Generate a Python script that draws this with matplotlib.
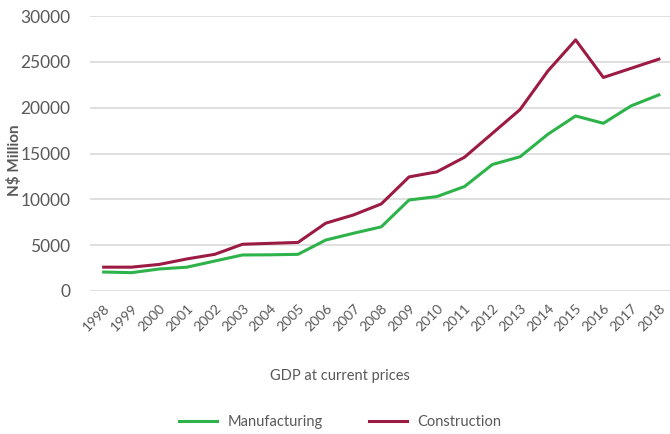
import matplotlib.pyplot as plt

years = [str(y) for y in range(1998, 2019)]
manufacturing = [2070, 2000, 2400, 2600, 3270, 3930, 3950, 4000, 5560, 6300, 7000,
                 9930, 10300, 11400, 13800, 14650, 17100, 19100, 18300, 20200, 21400]
construction = [2600, 2600, 2900, 3500, 4000, 5100, 5200, 5300, 7400, 8300, 9500,
                12450, 13000, 14600, 17200, 19800, 24000, 27400, 23300, 24300, 25300]

plt.rcParams['font.family'] = ['Lato', 'DejaVu Sans']
grey = '#595959'

fig = plt.figure(figsize=(6.7, 4.34), dpi=100)
ax = fig.add_axes([0.134, 0.3295, 0.866, 0.6335])

x = range(len(years))
ax.plot(x, manufacturing, color='#2db34a', lw=2.2, label='Manufacturing')
ax.plot(x, construction, color='#9b1b42', lw=2.2, label='Construction')

ax.set_ylim(0, 30000)
ax.set_yticks(range(0, 30001, 5000))
ax.set_xlim(-0.5, 20.4)
ax.set_xticks(list(x))
ax.set_xticklabels(years, rotation=45, ha='right', rotation_mode='anchor')
ax.tick_params(axis='x', labelsize=10, colors=grey, length=0, pad=8)
ax.tick_params(axis='y', labelsize=12.5, colors=grey, length=0, pad=14)
ax.grid(axis='y', color='#d9d9d9', lw=1.2)
ax.set_axisbelow(True)
for s in ax.spines.values():
    s.set_visible(False)

fig.text(0.022, 0.63, 'N$ Million', rotation=90, ha='center', va='center',
         fontsize=11, fontweight='bold', color=grey)
fig.text(0.508, 0.134, 'GDP at current prices', ha='center', va='center',
         fontsize=10.5, color=grey)
fig.legend(loc='center', bbox_to_anchor=(0.508, 0.027), ncol=2, frameon=False,
           fontsize=10.5, labelcolor=grey, handlelength=2.6, handletextpad=0.7,
           columnspacing=3.2)

plt.savefig('out.png')
